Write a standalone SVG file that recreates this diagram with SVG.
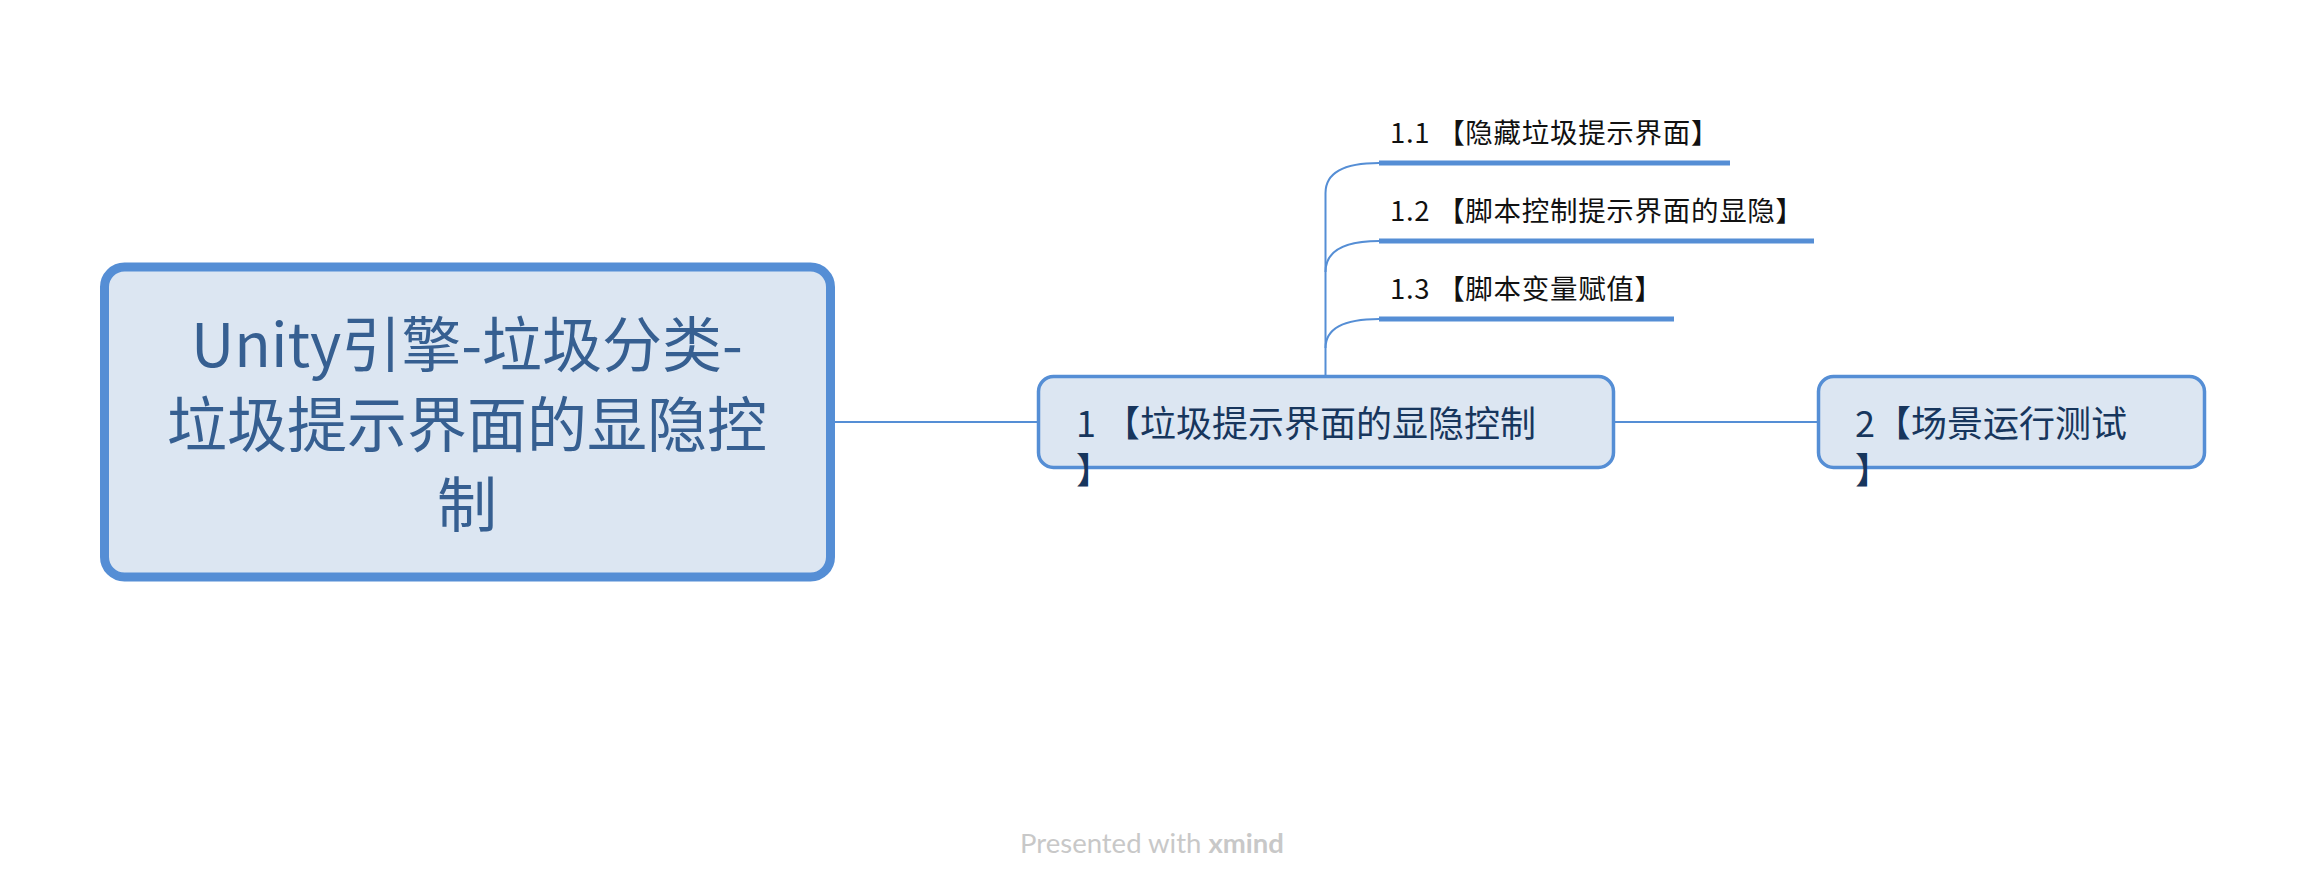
<svg xmlns="http://www.w3.org/2000/svg" width="2306" height="894" viewBox="0 0 2306 894">
<style>
.box{fill:#dce6f2;stroke:#558ed5}
.conn{fill:none;stroke:#558ed5;stroke-width:2}
.under{fill:none;stroke:#558ed5;stroke-width:5}
.cjk{font-family:"Noto Sans CJK SC","Noto Sans",sans-serif}
.root{font-size:60px;fill:#365f91}
.main{font-size:36px;fill:#17365d}
.sub{font-size:27.5px;fill:#111111;letter-spacing:0.7px}
</style>
<rect width="2306" height="894" fill="#ffffff"/>
<g id="connectors">
<path class="conn" d="M835,422 H1037"/>
<path class="conn" d="M1614,422 H1817"/>
<path class="conn" d="M1325.5,375 V193 Q1325.5,163 1379,163"/>
<path class="conn" d="M1325.5,272 Q1325.5,241 1379,241"/>
<path class="conn" d="M1325.5,348 Q1325.5,319 1379,319"/>
</g>
<g id="root">
<rect class="box" x="104.5" y="267" width="726" height="310" rx="20" stroke-width="9"/>
<text class="cjk root" text-anchor="middle"><tspan x="467" y="367">Unity引擎-垃圾分类-</tspan><tspan x="467" y="447">垃圾提示界面的显隐控</tspan><tspan x="467" y="527">制</tspan></text>
</g>
<g id="node1">
<rect class="box" x="1038.5" y="376.5" width="575" height="91" rx="15" stroke-width="3.5"/>
<text class="cjk main"><tspan x="1076" y="437">1 【垃圾提示界面的显隐控制</tspan><tspan x="1076" y="484">】</tspan></text>
</g>
<g id="node2">
<rect class="box" x="1818.5" y="376.5" width="386" height="91" rx="15" stroke-width="3.5"/>
<text class="cjk main"><tspan x="1855" y="437">2【场景运行测试</tspan><tspan x="1855" y="484">】</tspan></text>
</g>
<g id="node1-1">
<path class="under" d="M1379,163 H1730"/>
<text class="cjk sub" x="1390" y="143">1.1 【隐藏垃圾提示界面】</text>
</g>
<g id="node1-2">
<path class="under" d="M1379,241 H1814"/>
<text class="cjk sub" x="1390" y="221">1.2 【脚本控制提示界面的显隐】</text>
</g>
<g id="node1-3">
<path class="under" d="M1379,319 H1674"/>
<text class="cjk sub" x="1390" y="299">1.3 【脚本变量赋值】</text>
</g>
<g id="footer">
<text x="1152" y="853" text-anchor="middle" font-family="Lato,'Open Sans',sans-serif" font-size="27.5" fill="#c8c8c8">Presented with <tspan font-weight="bold">xmind</tspan></text>
</g>
</svg>
